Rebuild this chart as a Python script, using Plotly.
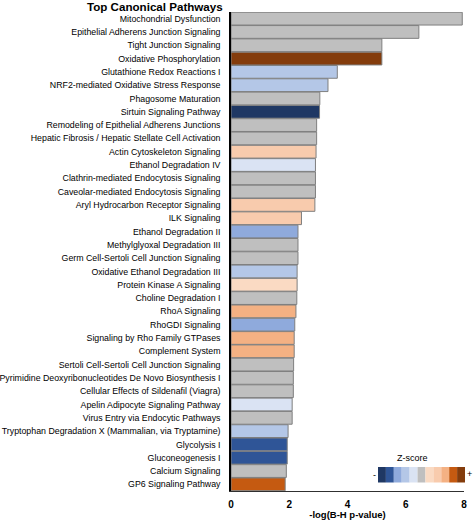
import plotly.graph_objects as go

pathways = [
    "Mitochondrial Dysfunction",
    "Epithelial Adherens Junction Signaling",
    "Tight Junction Signaling",
    "Oxidative Phosphorylation",
    "Glutathione Redox Reactions I",
    "NRF2-mediated Oxidative Stress Response",
    "Phagosome Maturation",
    "Sirtuin Signaling Pathway",
    "Remodeling of Epithelial Adherens Junctions",
    "Hepatic Fibrosis / Hepatic Stellate Cell Activation",
    "Actin Cytoskeleton Signaling",
    "Ethanol Degradation IV",
    "Clathrin-mediated Endocytosis Signaling",
    "Caveolar-mediated Endocytosis Signaling",
    "Aryl Hydrocarbon Receptor Signaling",
    "ILK Signaling",
    "Ethanol Degradation II",
    "Methylglyoxal Degradation III",
    "Germ Cell-Sertoli Cell Junction Signaling",
    "Oxidative Ethanol Degradation III",
    "Protein Kinase A Signaling",
    "Choline Degradation I",
    "RhoA Signaling",
    "RhoGDI Signaling",
    "Signaling by Rho Family GTPases",
    "Complement System",
    "Sertoli Cell-Sertoli Cell Junction Signaling",
    "Pyrimidine Deoxyribonucleotides De Novo Biosynthesis I",
    "Cellular Effects of Sildenafil (Viagra)",
    "Apelin Adipocyte Signaling Pathway",
    "Virus Entry via Endocytic Pathways",
    "Tryptophan Degradation X (Mammalian, via Tryptamine)",
    "Glycolysis I",
    "Gluconeogenesis I",
    "Calcium Signaling",
    "GP6 Signaling Pathway",
]

neg_log_p = [
    7.94, 6.45, 5.18, 5.18, 3.65, 3.33, 3.05, 3.04, 2.94, 2.94,
    2.92, 2.90, 2.90, 2.90, 2.88, 2.42, 2.30, 2.30, 2.30, 2.27,
    2.27, 2.26, 2.23, 2.19, 2.17, 2.17, 2.15, 2.14, 2.14, 2.10,
    2.10, 1.96, 1.93, 1.93, 1.90, 1.86,
]

# z-score level: index into the legend palette (5 = no prediction / grey)
z_level = [
    5, 5, 5, 10, 3, 3, 5, 0, 5, 5,
    7, 4, 5, 5, 7, 7, 2, 5, 5, 3,
    6, 5, 8, 2, 8, 8, 5, 5, 5, 4,
    5, 3, 1, 1, 5, 9,
]

palette = ["#1F3864", "#2F5597", "#8FAADC", "#B4C7E7", "#DAE3F3", "#BFBFBF",
           "#FADAC3", "#F8CBAD", "#F4B183", "#C55A11", "#843C0C"]

x_ticks = [0, 2, 4, 6, 8]

bar_colors = [palette[i] for i in z_level]

fig = go.Figure()
fig.add_trace(go.Bar(
    x=neg_log_p, y=pathways, orientation="h",
    marker=dict(color=bar_colors, line=dict(color="#7F7F7F", width=1)),
    showlegend=False, hoverinfo="x+y",
))

W, H = 474, 520
PX0, PX1, PY0, PY1 = 231, 464, 12, 491
L, R, T, B = PX0, W - PX1, PY0, H - PY1


def px2paper_x(px):
    return (px - PX0) / (PX1 - PX0)


def px2paper_y(py):
    return (PY1 - py) / (PY1 - PY0)


shapes = []
sx0, sx1 = 378, 465
sy0, sy1 = 467, 482.5
n = len(palette)
step = (sx1 - sx0) / n
for i, c in enumerate(palette):
    shapes.append(dict(
        type="rect", xref="paper", yref="paper",
        x0=px2paper_x(sx0 + i * step), x1=px2paper_x(sx0 + (i + 1) * step),
        y0=px2paper_y(sy1), y1=px2paper_y(sy0),
        fillcolor=c, line=dict(width=0), layer="above",
    ))

FONT = "Liberation Sans, Arial"
annotations = [
    dict(text="<b>Top Canonical Pathways</b>", xref="paper", yref="paper",
         x=px2paper_x(225), y=px2paper_y(6.5), xanchor="right", yanchor="middle",
         showarrow=False, font=dict(size=11.6, family=FONT, color="#000")),
    dict(text="Z-score", xref="paper", yref="paper",
         x=px2paper_x(412), y=px2paper_y(458), xanchor="center", yanchor="middle",
         showarrow=False, font=dict(size=9, family=FONT, color="#000")),
    dict(text="-", xref="paper", yref="paper",
         x=px2paper_x(374), y=px2paper_y(475), xanchor="center", yanchor="middle",
         showarrow=False, font=dict(size=9, family=FONT, color="#000")),
    dict(text="+", xref="paper", yref="paper",
         x=px2paper_x(469.5), y=px2paper_y(474), xanchor="center", yanchor="middle",
         showarrow=False, font=dict(size=9, family=FONT, color="#000")),
]

fig.update_layout(
    width=W, height=H,
    margin=dict(l=L, r=R, t=T, b=B, pad=0, autoexpand=False),
    paper_bgcolor="white", plot_bgcolor="white",
    bargap=0.04,
    font=dict(family=FONT, size=9, color="#000"),
    shapes=shapes, annotations=annotations,
    xaxis=dict(
        range=[0, 8], tickvals=x_ticks, ticktext=[f"<b>{v}</b>" for v in x_ticks],
        showgrid=False, zeroline=False, showline=True, linecolor="#303030", linewidth=1,
        ticks="", tickfont=dict(size=10), ticklabelstandoff=4, automargin=False,
        title=dict(text="<b>-log(B-H p-value)</b>", font=dict(size=9.5), standoff=3),
    ),
    yaxis=dict(
        autorange="reversed", showgrid=False, zeroline=False, showline=True,
        linecolor="#000", linewidth=1.5, ticks="", ticklabelstandoff=7,
        tickfont=dict(size=8.8), automargin=False,
    ),
)

fig.write_html(
    "out.html",
    config={"displayModeBar": False},
    post_script="document.body.style.margin='0';document.body.style.overflow='hidden';",
)
